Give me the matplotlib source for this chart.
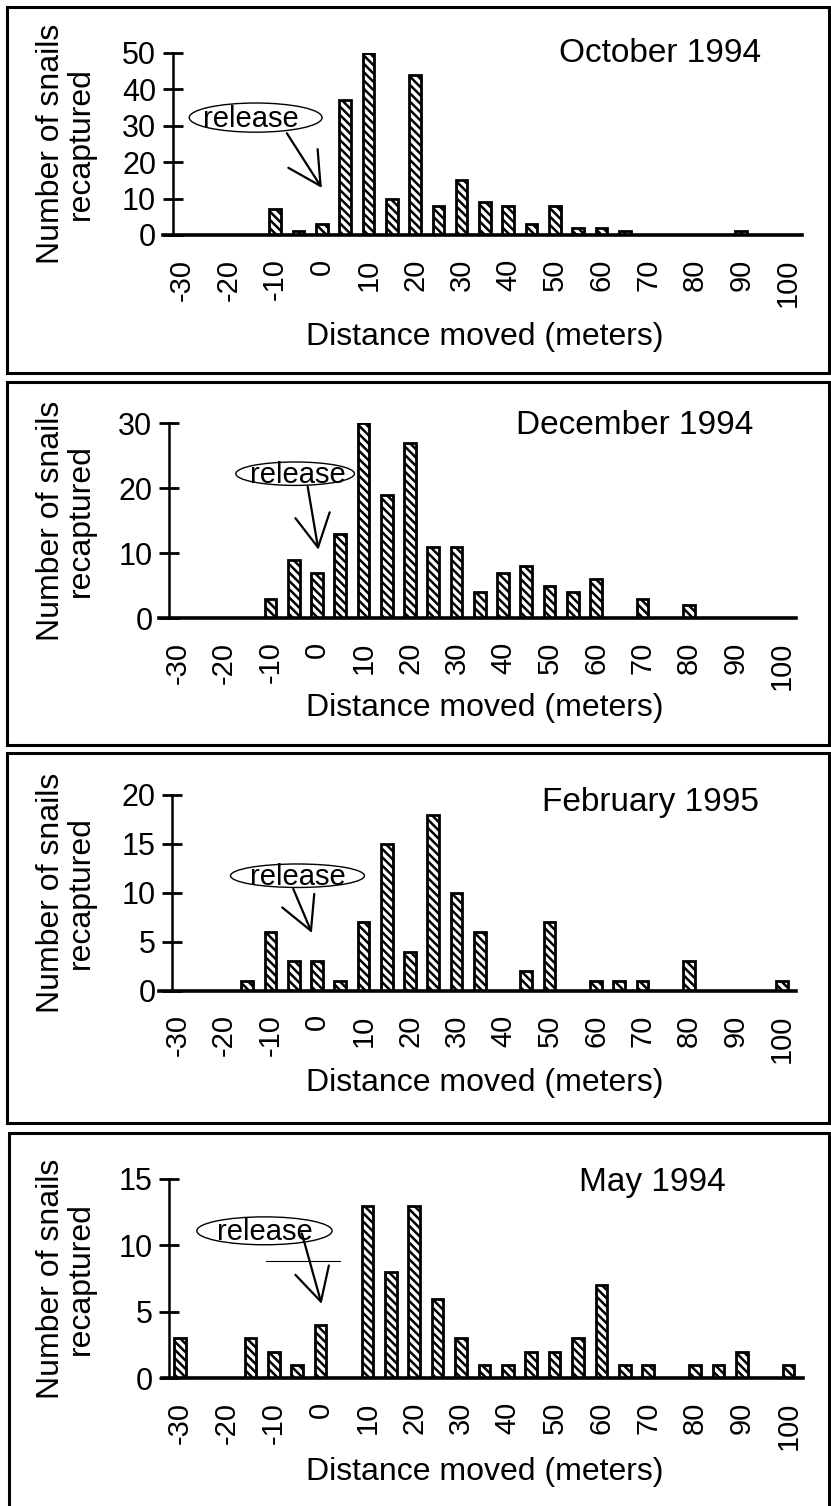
import matplotlib
matplotlib.use("Agg")
import matplotlib.pyplot as plt
from matplotlib.patches import Ellipse, Rectangle

plt.rcParams['font.family'] = ['Liberation Sans', 'DejaVu Sans']
plt.rcParams['hatch.linewidth'] = 1.8
plt.rcParams['axes.unicode_minus'] = False

W, H = 831, 1506

# distance classes (m) and recapture counts
distance = [-30, -25, -20, -15, -10, -5, 0, 5, 10, 15, 20, 25, 30, 35, 40,
            45, 50, 55, 60, 65, 70, 75, 80, 85, 90, 95, 100]
october_1994 = [0, 0, 0, 0, 7, 1, 3, 37, 50, 10, 44, 8, 15, 9, 8,
                3, 8, 2, 2, 1, 0, 0, 0, 0, 1, 0, 0]
december_1994 = [0, 0, 0, 0, 3, 9, 7, 13, 30, 19, 27, 11, 11, 4, 7,
                 8, 5, 4, 6, 0, 3, 0, 2, 0, 0, 0, 0]
february_1995 = [0, 0, 0, 1, 6, 3, 3, 1, 7, 15, 4, 18, 10, 6, 0,
                 2, 7, 0, 1, 1, 1, 0, 3, 0, 0, 0, 1]
may_1994 = [3, 0, 0, 3, 2, 1, 4, 0, 13, 8, 13, 6, 3, 1, 1,
            2, 2, 3, 7, 1, 1, 0, 1, 1, 2, 0, 1]

x_ticks = [-30, -20, -10, 0, 10, 20, 30, 40, 50, 60, 70, 80, 90, 100]
x_tick_labels = ["-30", "-20", "-10", "0", "10", "20", "30", "40", "50",
                 "60", "70", "80", "90", "100"]

series = [october_1994, december_1994, february_1995, may_1994]
titles = ["October 1994", "December 1994", "February 1995", "May 1994"]
y_ticks = [[0, 10, 20, 30, 40, 50], [0, 10, 20, 30], [0, 5, 10, 15, 20], [0, 5, 10, 15]]

# layout in pixels
panels = [
    dict(left=163.4, ppm=4.66, top=52.7, zero=235.0, spine=-32.0,
         box=(7, 7, 829, 372.7), title=(660, 54), xlab=337,
         ell=(-14.2, 32.2, 28.5, 8.0), txt=(-15.3, 31.8),
         arr=((-7.5, 27.9), (0.0, 12.9))),
    dict(left=158.9, ppm=4.65, top=423.0, zero=618.0, spine=-31.8,
         box=(7, 382, 829, 745), title=(635, 426), xlab=708,
         ell=(-4.7, 22.2, 25.5, 3.6), txt=(-4.1, 22.0),
         arr=((-2.0, 20.2), (0.3, 10.5))),
    dict(left=158.9, ppm=4.65, top=795.0, zero=990.7, spine=-31.1,
         box=(7, 753, 829, 1123), title=(650, 802), xlab=1083,
         ell=(-4.2, 11.75, 28.8, 2.4), txt=(-4.1, 11.65),
         arr=((-5.1, 10.4), (-1.1, 5.9))),
    dict(left=161.5, ppm=4.68, top=1179.0, zero=1378.3, spine=-32.3,
         box=(9, 1133, 829, 1512), title=(652, 1183), xlab=1472,
         ell=(-12.0, 11.1, 28.9, 2.1), txt=(-11.9, 11.0),
         arr=((-4.0, 10.9), (0.2, 5.6))),
]

fig = plt.figure(figsize=(W / 100, H / 100), dpi=100)

for vals, title, yt, p in zip(series, titles, y_ticks, panels):
    x0, x1 = -34, 103
    width = (x1 - x0) * p['ppm']
    ax = fig.add_axes([p['left'] / W, 1 - p['zero'] / H, width / W,
                       (p['zero'] - p['top']) / H])
    ax.bar(distance, vals, width=2.5, color='white', edgecolor='black',
           hatch='\\\\\\\\', linewidth=2)
    ax.set_xlim(x0, x1)
    ax.set_ylim(0, yt[-1])
    ax.set_xticks(x_ticks)
    ax.set_xticklabels(x_tick_labels)
    ax.set_yticks(yt)
    ax.spines['top'].set_visible(False)
    ax.spines['right'].set_visible(False)
    ax.spines['left'].set_position(('data', p['spine']))
    ax.spines['left'].set_linewidth(1.8)
    ax.spines['bottom'].set_linewidth(2.6)
    ax.tick_params(axis='y', direction='inout', length=14, width=2,
                   labelsize=22, pad=5)
    ax.tick_params(axis='x', length=0, labelsize=21, pad=17, labelrotation=90)
    ax.patch.set_alpha(0)

    # release callout
    ex, ey, ew, eh = p['ell']
    ax.add_patch(Ellipse((ex, ey), ew, eh, fill=False, lw=1.0,
                         ec='black', clip_on=False))
    ax.text(p['txt'][0], p['txt'][1], "release", ha='center', va='center',
            fontsize=21)
    ax.annotate("", xy=p['arr'][1], xytext=p['arr'][0],
                arrowprops=dict(arrowstyle="->,head_length=2.35,head_width=1.25",
                                mutation_scale=10, lw=1.6, color='black',
                                shrinkA=0, shrinkB=0))
    if title == "May 1994":
        ax.plot([-11.7, 4.1], [8.83, 8.83], color='black', lw=0.8)

    fig.text(p['title'][0] / W, 1 - p['title'][1] / H, title,
             ha='center', va='center', fontsize=24)
    fig.text(485 / W, 1 - p['xlab'] / H, "Distance moved (meters)",
             ha='center', va='center', fontsize=23)
    fig.text(66 / W, 1 - (p['top'] + p['zero']) / 2 / H,
             "Number of snails\nrecaptured", rotation=90, ha='center',
             va='center', multialignment='center', fontsize=23,
             linespacing=1.0)

    bx0, by0, bx1, by1 = p['box']
    fig.add_artist(Rectangle((bx0 / W, 1 - by1 / H), (bx1 - bx0) / W,
                             (by1 - by0) / H, transform=fig.transFigure,
                             fill=False, lw=2.2, ec='black'))

fig.savefig("out.png", dpi=100)
